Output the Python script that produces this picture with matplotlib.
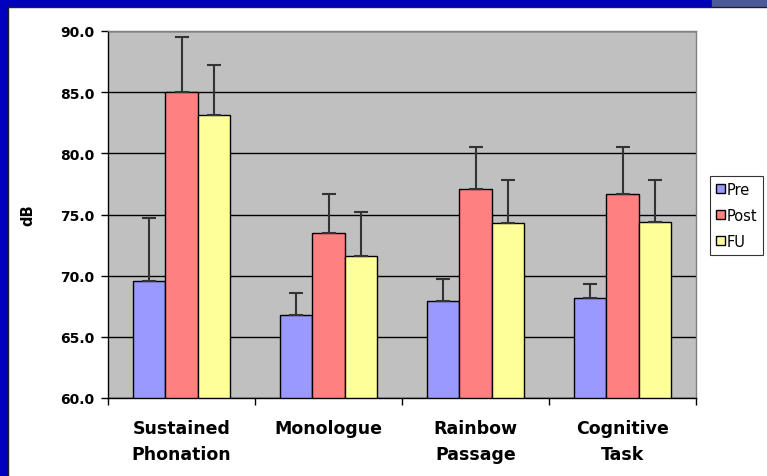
import matplotlib
matplotlib.use("Agg")
import matplotlib.pyplot as plt
from matplotlib.patches import Rectangle
import numpy as np

categories = ["Sustained\nPhonation", "Monologue", "Rainbow\nPassage", "Cognitive\nTask"]
series_names = ["Pre", "Post", "FU"]
pre = [69.6, 66.8, 67.9, 68.2]
post = [85.0, 73.5, 77.1, 76.7]
fu = [83.1, 71.6, 74.3, 74.4]
pre_err = [5.1, 1.8, 1.8, 1.1]
post_err = [4.5, 3.2, 3.4, 3.8]
fu_err = [4.1, 3.6, 3.5, 3.4]
yticks = [60.0, 65.0, 70.0, 75.0, 80.0, 85.0, 90.0]

colors = ["#9999FF", "#FF8080", "#FFFF99"]

plt.rcParams['font.family'] = ['DejaVu Sans']

fig = plt.figure(figsize=(7.67, 4.77), dpi=100)
fig.patch.set_facecolor("white")

# blue slide border
fig.patches.append(Rectangle((0, 0), 7/767, 1, transform=fig.transFigure, color="#0000BF", zorder=0))
fig.patches.append(Rectangle((0, 1 - 7/477), 1, 7/477, transform=fig.transFigure, color="#0000BF", zorder=0))
fig.patches.append(Rectangle((712/767, 1 - 7/477), 55/767, 7/477, transform=fig.transFigure, color="#4C5A9A", zorder=1))
fig.lines.append(plt.Line2D([7.5/767, 7.5/767], [0, 1 - 7/477], transform=fig.transFigure, color="#202020", lw=1))
fig.lines.append(plt.Line2D([7.5/767, 1], [1 - 7.5/477, 1 - 7.5/477], transform=fig.transFigure, color="#202020", lw=1))

ax = fig.add_axes([108/767, 1 - 399/477, 588/767, 367/477])
ax.set_facecolor("#C0C0C0")

x = np.arange(len(categories))
w = 0.222
data = [pre, post, fu]
errs = [pre_err, post_err, fu_err]
for j, (vals, er, c, name) in enumerate(zip(data, errs, colors, series_names)):
    xs = x + (j - 1) * w
    bottoms = [60.0] * len(vals)
    heights = [v - 60.0 for v in vals]
    ax.bar(xs, heights, bottom=bottoms, width=w, color=c, edgecolor="black", linewidth=1.0,
           label=name, zorder=3)
    ax.errorbar(xs, vals, yerr=[np.zeros(len(vals)), er], fmt="none", ecolor="#333333",
                elinewidth=1.5, capsize=5, capthick=1.5, zorder=4)

ax.set_xlim(-0.5, 3.5)
ax.set_ylim(60, 90)
ax.set_yticks(yticks)
ax.set_yticklabels([f"{t:.1f}" for t in yticks], fontsize=10, fontweight="bold")
ax.yaxis.grid(True, color="black", linewidth=1.0, zorder=1)
ax.set_axisbelow(True)

ax.set_xticks(np.arange(-0.5, 3.6, 1.0))
ax.set_xticklabels([])
ax.set_xticks(x, minor=True)
ax.set_xticklabels(categories, minor=True, fontsize=12.5, fontweight="bold", linespacing=1.6)
ax.tick_params(axis="x", which="minor", length=0, pad=15)
ax.tick_params(axis="x", which="major", length=5, width=1, direction="out")
ax.tick_params(axis="y", length=5, width=1, direction="out", pad=5)

for s in ["top", "right"]:
    ax.spines[s].set_color("#808080")
    ax.spines[s].set_linewidth(1)
for s in ["left", "bottom"]:
    ax.spines[s].set_color("black")
    ax.spines[s].set_linewidth(1)

ax.set_ylabel("dB", fontsize=10.5, fontweight="bold")
ax.yaxis.set_label_coords(-(108 - 35) / 588, 0.5)

leg = ax.legend(loc="upper left", bbox_to_anchor=(710/767, 1 - 177/477), bbox_transform=fig.transFigure,
                fontsize=10.5, frameon=True, fancybox=False, edgecolor="black", handlelength=0.6,
                handleheight=0.6, handletextpad=0.15, borderpad=0.4, labelspacing=0.75, borderaxespad=0)
leg.get_frame().set_linewidth(0.8)

fig.savefig("out.png", dpi=100)
